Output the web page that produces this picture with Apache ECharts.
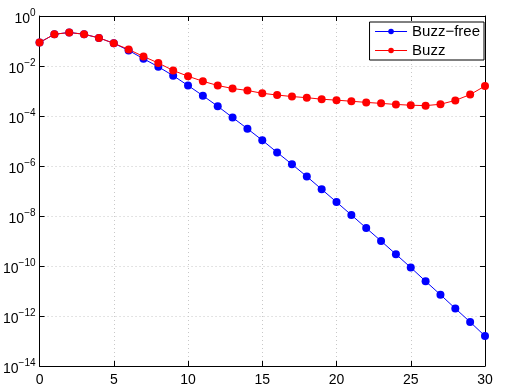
<!DOCTYPE html>
<html>
<head>
<meta charset="utf-8">
<script src="https://cdn.jsdelivr.net/npm/echarts@6/dist/echarts.min.js"></script>
<style>
  html, body { margin: 0; padding: 0; background: #fff; }
  #main { width: 506px; height: 387px; }
</style>
</head>
<body>
<div id="main"></div>
<script>
// x positions
var xs = [0, 1, 2, 3, 4, 5, 6, 7, 8, 9, 10, 11, 12, 13, 14, 15,
          16, 17, 18, 19, 20, 21, 22, 23, 24, 25, 26, 27, 28, 29, 30];
// values
var buzzFree = [0.087, 0.186, 0.219, 0.186, 0.133, 0.081, 0.042, 0.0195, 0.0093, 0.0041,
                1.66e-3, 6.5e-4, 2.45e-4, 8.7e-5, 3.1e-5, 1.07e-5, 3.5e-6, 1.17e-6, 3.8e-7, 1.17e-7,
                3.6e-8, 1.1e-8, 3.3e-9, 1.0e-9, 2.95e-10, 8.7e-11, 2.45e-11, 7.1e-12, 2.0e-12, 5.75e-13,
                1.58e-13];
var buzz = [0.087, 0.186, 0.219, 0.186, 0.133, 0.081, 0.046, 0.024, 0.0132, 0.0066,
            3.9e-3, 2.45e-3, 1.66e-3, 1.26e-3, 1.05e-3, 8.1e-4, 6.9e-4, 6.0e-4, 5.4e-4, 4.7e-4,
            4.3e-4, 3.9e-4, 3.5e-4, 3.2e-4, 2.9e-4, 2.7e-4, 2.6e-4, 2.95e-4, 4.2e-4, 7.2e-4,
            1.58e-3];
var seriesNames = ['Buzz\u2212free', 'Buzz'];
var xTicks = [0, 5, 10, 15, 20, 25, 30];

var font = 'Liberation Sans';

function pairs(vals) {
  return xs.map(function (x, i) { return [x, vals[i]]; });
}

var chart = echarts.init(document.getElementById('main'));

var gridLine = { show: true, lineStyle: { color: '#c8c8c8', type: [1, 3], width: 1 } };
var boxLine = { show: true, onZero: false, lineStyle: { color: '#000', width: 1 } };
var inTick = { show: true, inside: true, length: 5, lineStyle: { color: '#000' } };

var option = {
  animation: false,
  backgroundColor: '#fff',
  grid: { left: 39, right: 21, top: 16, bottom: 19 },
  legend: {
    orient: 'vertical',
    right: 22,
    top: 22,
    padding: [2, 4, 2, 5],
    itemGap: 4,
    itemWidth: 32,
    itemHeight: 7,
    borderColor: '#000',
    borderWidth: 1,
    borderRadius: 0,
    backgroundColor: '#fff',
    lineStyle: { width: 1 },
    textStyle: { fontFamily: font, fontSize: 15, color: '#000' },
    data: seriesNames
  },
  xAxis: [
    {
      type: 'value', min: 0, max: 30, interval: 5, position: 'bottom',
      axisLine: boxLine, axisTick: inTick, splitLine: gridLine,
      axisLabel: { margin: 7, fontFamily: font, fontSize: 14, color: '#000',
        formatter: function (v) { return xTicks.indexOf(v) >= 0 ? String(v) : ''; } }
    },
    {
      type: 'value', min: 0, max: 30, interval: 5, position: 'top',
      axisLine: boxLine, axisTick: inTick, splitLine: { show: false },
      axisLabel: { show: false }
    }
  ],
  yAxis: [
    {
      type: 'log', logBase: 10, min: 1e-14, max: 1, interval: 2, position: 'left',
      axisLine: boxLine, axisTick: inTick, splitLine: gridLine,
      axisLabel: {
        margin: 4, color: '#000',
        formatter: function (v) {
          var e = Math.round(Math.log10(v));
          var s = e < 0 ? '\u2212' + (-e) : String(e);
          return '{b|10}{e|' + s + '}';
        },
        rich: {
          b: { fontFamily: font, fontSize: 14, color: '#000', padding: [6, 0, 0, 0] },
          e: { fontFamily: font, fontSize: 10, color: '#000', padding: [0, 0, 6, 0] }
        }
      }
    },
    {
      type: 'log', logBase: 10, min: 1e-14, max: 1, interval: 2, position: 'right',
      axisLine: boxLine, axisTick: inTick, splitLine: { show: false },
      axisLabel: { show: false }
    }
  ],
  series: [
    {
      name: seriesNames[0], type: 'line', data: pairs(buzzFree),
      symbol: 'circle', symbolSize: 8,
      itemStyle: { color: '#0000ff' },
      lineStyle: { color: '#0000ff', width: 1 }
    },
    {
      name: seriesNames[1], type: 'line', data: pairs(buzz),
      symbol: 'circle', symbolSize: 8,
      itemStyle: { color: '#ff0000' },
      lineStyle: { color: '#ff0000', width: 1 }
    }
  ]
};

chart.setOption(option);
</script>
</body>
</html>
